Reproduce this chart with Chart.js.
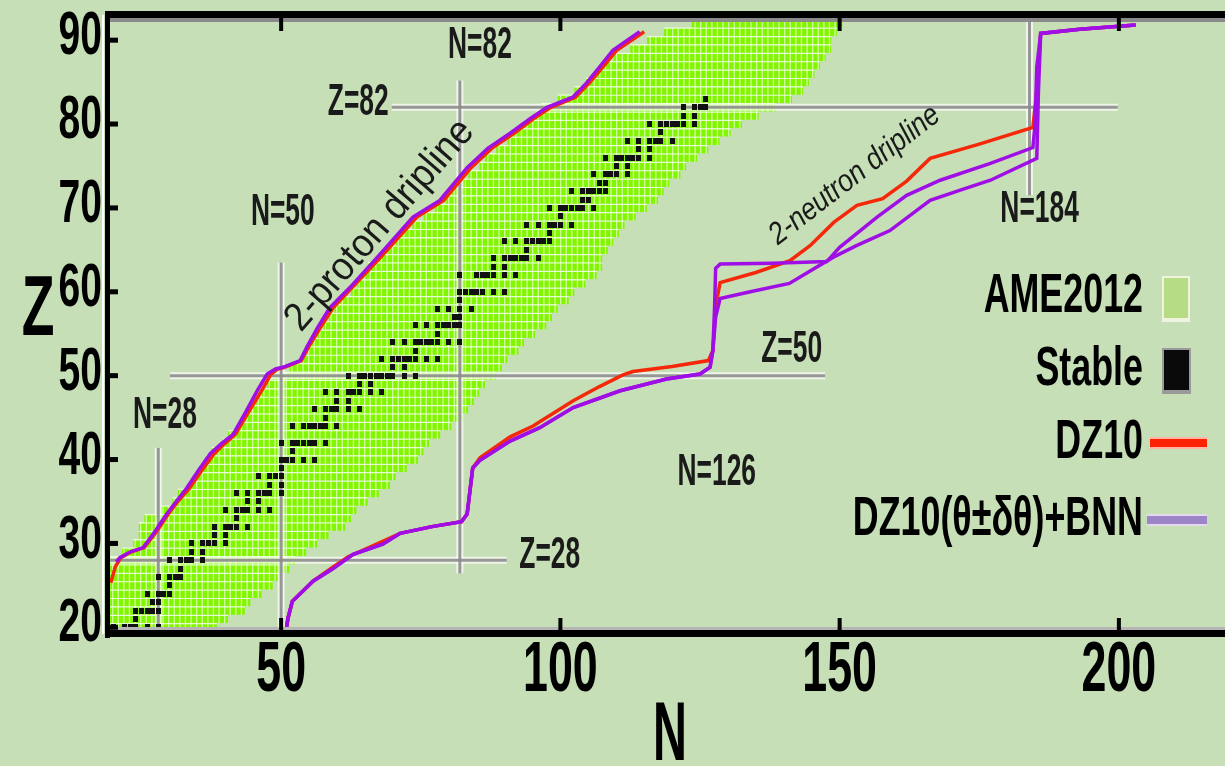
<!DOCTYPE html>
<html>
<head>
<meta charset="utf-8">
<title>Driplines</title>
<script src="https://cdn.jsdelivr.net/npm/chart.js@4.4.1/dist/chart.umd.min.js"></script>
<style>
  html, body { margin: 0; padding: 0; background: #c6dfb7; overflow: hidden; }
  #wrap { width: 1225px; height: 766px; position: relative; }
</style>
</head>
<body>
<div id="wrap"><canvas id="chart"></canvas></div>
<script>
// axis ranges and ticks
const N_MIN = 19, N_MAX = 219, Z_MIN = 19.2, Z_MAX = 93;
const nTicks = [50, 100, 150, 200];
const zTicks = [20, 30, 40, 50, 60, 70, 80, 90];

// AME2012 : N range for every Z
const ameZ = [19, 20, 21, 22, 23, 24, 25, 26, 27, 28, 29, 30, 31, 32, 33, 34, 35, 36, 37, 38,
  39, 40, 41, 42, 43, 44, 45, 46, 47, 48, 49, 50, 51, 52, 53, 54, 55, 56, 57, 58,
  59, 60, 61, 62, 63, 64, 65, 66, 67, 68, 69, 70, 71, 72, 73, 74, 75, 76, 77, 78,
  79, 80, 81, 82, 83, 84, 85, 86, 87, 88, 89, 90, 91, 92, 93];
const ameNmin = [15, 15, 15, 15, 15, 15, 15, 16, 17, 18, 22, 24, 25, 25, 26, 29, 31, 32, 34, 35,
  36, 37, 38, 40, 41, 43, 44, 45, 46, 47, 48, 49, 52, 54, 55, 56, 57, 58, 59, 60,
  61, 63, 64, 65, 66, 68, 69, 71, 72, 74, 76, 78, 80, 81, 83, 84, 86, 87, 89, 91,
  92, 94, 96, 97, 100, 103, 105, 107, 108, 110, 113, 116, 119, 124, 124];
const ameNmax = [37, 38, 40, 43, 44, 46, 48, 49, 51, 52, 54, 56, 58, 61, 62, 63, 65, 67, 69, 70,
  72, 74, 75, 76, 78, 80, 82, 83, 84, 85, 86, 88, 89, 90, 92, 93, 95, 97, 98, 99,
  101, 102, 104, 106, 107, 107, 108, 109, 110, 111, 113, 115, 117, 118, 119, 121, 122, 124, 126, 128,
  130, 132, 135, 138, 141, 143, 144, 145, 146, 147, 148, 148, 149, 150, 150];

// stable nuclides, N values for Z = 20 .. 83
const stableZ = [20, 21, 22, 23, 24, 25, 26, 27, 28, 29, 30, 31, 32, 33, 34, 35, 36, 37, 38, 39,
  40, 41, 42, 43, 44, 45, 46, 47, 48, 49, 50, 51, 52, 53, 54, 55, 56, 57, 58, 59,
  60, 61, 62, 63, 64, 65, 66, 67, 68, 69, 70, 71, 72, 73, 74, 75, 76, 77, 78, 79,
  80, 81, 82, 83];
const stableN = [
  [20, 22, 23, 24, 26, 28], [24], [24, 25, 26, 27, 28], [27, 28], [26, 28, 29, 30], [30],
  [28, 30, 31, 32], [32], [30, 32, 33, 34, 36], [34, 36], [34, 36, 37, 38, 40], [38, 40],
  [38, 40, 41, 42, 44], [42], [40, 42, 43, 44, 46, 48], [44, 46], [42, 44, 46, 47, 48, 50], [48, 50],
  [46, 48, 49, 50], [50], [50, 51, 52, 54, 56], [52], [50, 52, 53, 54, 55, 56, 58], [],
  [52, 54, 55, 56, 57, 58, 60], [58], [56, 58, 59, 60, 62, 64], [60, 62], [58, 60, 62, 63, 64, 66, 68], [64, 66],
  [62, 64, 65, 66, 67, 68, 69, 70, 72, 74], [70, 72], [68, 70, 71, 72, 73, 74, 76, 78], [74],
  [70, 72, 74, 75, 76, 77, 78, 80, 82], [78], [74, 76, 78, 79, 80, 81, 82], [81, 82], [78, 80, 82, 84], [82],
  [82, 83, 84, 85, 86, 88, 90], [], [82, 85, 86, 87, 88, 90, 92], [88, 90], [88, 90, 91, 92, 93, 94, 96], [94],
  [90, 92, 94, 95, 96, 97, 98], [98], [94, 96, 98, 99, 100, 102], [100], [98, 100, 101, 102, 103, 104, 106], [104, 105],
  [102, 104, 105, 106, 107, 108], [107, 108], [106, 108, 109, 110, 112], [110, 112], [108, 110, 111, 112, 113, 114, 116], [114, 116],
  [112, 114, 116, 117, 118, 120], [118], [116, 118, 119, 120, 121, 122, 124], [122, 124], [122, 124, 125, 126], [126]
];

// 2-proton dripline
const pDz10N = [19.5, 20.3, 21.3, 23.2, 25.5, 27.8, 29.8, 31.5, 33.6, 35.9, 38.0, 39.9, 41.8, 44.1, 46.5, 48.2, 49.4, 50.6, 53.6, 54.9,
  57.0, 59.3, 62.7, 67.8, 74.3, 79.1, 84.0, 87.7, 91.7, 95.1, 98.3, 102.7, 105.2, 107.6, 110.1, 112.8, 115.0];
const pDz10Z = [25.3, 27.2, 28.3, 29.0, 29.5, 31.5, 33.5, 35.0, 36.6, 38.8, 40.7, 41.9, 43, 45.6, 48.2, 50.2, 50.8, 51, 51.8, 53.4,
  55.7, 58.1, 60.5, 64.1, 68.9, 70.9, 74.8, 77.1, 78.9, 80.6, 82, 83.2, 84.9, 86.8, 88.8, 90, 91];
const pBnnN = [20.5, 21.1, 23, 25.3, 27.5, 29.5, 31.2, 33.1, 35.3, 37.3, 39.3, 41.4, 43.6, 45.7, 47.5, 49, 50.3, 53.4, 54.6, 56.5,
  58.7, 62.3, 67.2, 73.6, 78.4, 83.3, 87, 91, 94.5, 97.6, 102.2, 104.7, 107, 109.4, 112, 114.2];
const pBnnZ = [27.8, 28.3, 29.0, 29.5, 31.5, 33.5, 35.0, 36.6, 38.8, 40.7, 41.9, 43, 45.6, 48.2, 50.2, 50.8, 51, 51.8, 53.4, 55.7,
  58.1, 60.5, 64.1, 68.9, 70.9, 74.8, 77.1, 78.9, 80.6, 82, 83.2, 84.9, 86.8, 88.8, 90, 91];

// 2-neutron dripline
const nDz10N = [50.8, 51.2, 52, 53.4, 55.7, 59.3, 62, 66, 71.3, 77, 82.3, 83.3, 83.6, 84.3, 85.6, 91, 95.1, 102.3, 107, 111.2,
  113, 120, 126.5, 127.3, 127.6, 128, 128.6, 135, 141.1, 144.7, 149, 153.1, 157.7, 162, 166.2, 175, 184.6, 185.3, 186, 193, 203];
const nDz10Z = [19.2, 21, 23.1, 24, 25.5, 27.2, 28.4, 29.6, 31.2, 32.0, 32.6, 33.5, 35.1, 39, 40.2, 42.7, 44, 47, 48.7, 50.1,
  50.5, 51.1, 51.8, 53, 56, 59, 61.1, 62.3, 63.7, 65.5, 68.3, 70.3, 71.1, 73.2, 75.9, 77.6, 79.6, 84, 90.8, 91.3, 91.8];
const nBnnLoN = [50.8, 51.2, 52, 53.4, 55.7, 59.3, 62.9, 68.2, 71.3, 77, 82.3, 83.3, 83.6, 84.3, 85.6, 91, 96.3, 102.3, 110.7, 119,
  125, 126.8, 127.3, 127.8, 128.6, 134, 141, 148.8, 153, 159, 166.2, 172, 177, 185.3, 185.6, 186, 193, 203];
const nBnnLoZ = [19.2, 21, 23.1, 24, 25.5, 27, 28.7, 29.9, 31.2, 32.0, 32.6, 33.5, 35.1, 39, 39.9, 42.2, 43.8, 46.2, 48.2, 49.6,
  50.2, 51, 53, 57, 59.2, 60, 61, 64.1, 65.5, 67.3, 70.9, 72.2, 73.3, 75.9, 84, 90.8, 91.3, 91.8];
const nBnnHiN = [50.8, 51.2, 52, 53.4, 55.7, 59.3, 62.9, 68.2, 71.3, 77, 82.3, 83.3, 83.6, 84.3, 85.6, 91, 96.3, 102.3, 110.7, 119,
  125, 126.8, 127.3, 127.6, 127.8, 128.6, 138, 147.7, 150, 156.7, 162, 168, 177, 184.6, 185, 185.3, 186, 193, 203];
const nBnnHiZ = [19.2, 21, 23.1, 24, 25.5, 27, 28.7, 29.9, 31.2, 32.0, 32.6, 33.5, 35.1, 39, 39.9, 42.2, 43.8, 46.2, 48.2, 49.6,
  50.2, 51, 53, 58, 62.8, 63.3, 63.4, 63.6, 65.3, 68.9, 71.5, 73.3, 75.3, 77.2, 80, 86.8, 90.8, 91.3, 91.8];

// magic number guide lines
const magicFromN = [28, 50, 82, 184, 19, 30.1, 69.8];
const magicToN = [28, 50, 82, 184, 90.4, 147.4, 199.8];
const magicFromZ = [19.2, 19.2, 26.4, 71.5, 28, 50, 82];
const magicToZ = [41.4, 63.5, 85.2, 93, 28, 50, 82];

// text annotations
const annoText = ['N=28', 'N=50', 'N=82', 'N=184', 'N=126', 'Z=28', 'Z=50', 'Z=82'];
const annoN = [29.2, 50.3, 85.6, 185.8, 128, 98.1, 141.4, 63.8];
const annoZ = [45.2, 69.4, 89.3, 69.8, 38.4, 28.5, 53.1, 82.5];

const legendLabels = ['AME2012', 'Stable', 'DZ10', 'DZ10(\u03B8\u00B1\u03B4\u03B8)+BNN'];

const RED = '#f5280a';
const PURPLE = '#a00ee6';
const FONT = '"Liberation Sans", Arial, sans-serif';

function cellPattern() {
  const c = document.createElement('canvas');
  c.width = 28; c.height = 4;
  const g = c.getContext('2d');
  g.fillStyle = '#82f600';
  g.fillRect(0, 0, 28, 4);
  g.fillStyle = 'rgba(228,255,196,0.8)';
  [0, 5.6, 11.2, 16.8, 22.4].forEach(x => g.fillRect(x, 0, 1.3, 4));
  return g.createPattern(c, 'repeat');
}

function stableMark() {
  const c = document.createElement('canvas');
  c.width = 5; c.height = 6;
  const g = c.getContext('2d');
  g.fillStyle = '#111';
  g.fillRect(0, 0, 5, 6);
  return c;
}

function pts(ns, zs) {
  return ns.map((n, i) => ({ x: n, y: zs[i] }));
}

function lineSet(label, ns, zs, color, width, order) {
  return {
    type: 'scatter', label: label, data: pts(ns, zs), showLine: true,
    borderColor: color, borderWidth: width, pointRadius: 0, pointHoverRadius: 0,
    fill: false, tension: 0, order: order
  };
}

const datasets = [];
datasets.push({
  type: 'bar', label: 'AME2012', indexAxis: 'y', order: 10,
  data: ameZ.map((z, i) => ({ y: z, x: [ameNmin[i] - 0.5, ameNmax[i] + 0.5] })),
  backgroundColor: cellPattern(),
  borderColor: 'rgba(236,255,220,0.9)',
  borderWidth: { top: 1.5, bottom: 0, left: 0, right: 0 },
  borderSkipped: false,
  categoryPercentage: 1, barPercentage: 1
});
magicFromN.forEach((n, i) => {
  const ns = [n, magicToN[i]], zs = [magicFromZ[i], magicToZ[i]];
  datasets.push(lineSet('halo', ns, zs, 'rgba(255,255,255,0.7)', 7, 9));
  datasets.push(lineSet('magic', ns, zs, 'rgba(140,140,140,0.9)', 3, 8));
});
datasets.push({
  type: 'scatter', label: 'Stable', order: 6,
  data: stableZ.flatMap((z, i) => stableN[i].map(n => ({ x: n, y: z }))),
  pointStyle: stableMark(), pointRadius: 3
});
datasets.push(lineSet('DZ10', pDz10N, pDz10Z, RED, 3.5, 4));
datasets.push(lineSet('DZ10', nDz10N, nDz10Z, RED, 3.5, 4));
datasets.push(lineSet('DZ10(θ±δθ)+BNN', pBnnN, pBnnZ, PURPLE, 3.5, 2));
datasets.push(lineSet('DZ10(θ±δθ)+BNN', nBnnLoN, nBnnLoZ, PURPLE, 3.5, 2));
datasets.push(lineSet('DZ10(θ±δθ)+BNN', nBnnHiN, nBnnHiZ, PURPLE, 3.5, 2));

// text drawn squeezed like the condensed font of the picture
function drawText(ctx, txt, x, y, o) {
  ctx.save();
  ctx.translate(x, y);
  if (o.rot) ctx.rotate(o.rot);
  ctx.scale(o.sx || 1, o.sy || 1);
  ctx.font = o.font;
  ctx.fillStyle = o.color || '#000';
  ctx.textAlign = o.align || 'center';
  ctx.textBaseline = 'middle';
  ctx.fillText(txt, 0, 0);
  ctx.restore();
}

const decor = {
  id: 'decor',
  afterDatasetsDraw(chart) {
    const { ctx, chartArea: a, scales: { x, y } } = chart;
    const w = a.right - a.left, h = a.bottom - a.top;
    ctx.save();
    ctx.fillStyle = '#ffffff';
    ctx.fillRect(a.left - 6, a.top, 2, h);
    ctx.fillStyle = '#8a8a8a';
    ctx.fillRect(a.left, a.top + 3, w, 4);
    ctx.fillStyle = '#b5b5b5';
    ctx.fillRect(a.left, a.bottom - 7, w, 3);
    ctx.fillStyle = '#000';
    ctx.fillRect(a.left - 3, a.top - 4, 5, h + 8);
    ctx.fillRect(a.left - 3, a.top - 4, w + 3, 7);
    ctx.fillRect(a.left - 3, a.bottom - 4, w + 3, 7);
    x.ticks.forEach(t => {
      const px = x.getPixelForValue(t.value);
      ctx.fillRect(px - 2, a.bottom - 16, 4, 14);
      ctx.fillRect(px - 2, a.top + 2, 4, 14);
    });
    y.ticks.forEach(t => {
      const py = y.getPixelForValue(t.value);
      ctx.fillRect(a.left, py - 2.5, 10, 5);
    });
    ctx.restore();
  },
  afterDraw(chart) {
    const { ctx, chartArea: a, scales: { x, y } } = chart;
    // tick labels
    x.ticks.forEach(t => {
      drawText(ctx, String(t.value), x.getPixelForValue(t.value), 672,
        { font: 'bold 70px ' + FONT, sx: 0.64 });
    });
    y.ticks.forEach(t => {
      drawText(ctx, String(t.value), a.left - 6, y.getPixelForValue(t.value) - 3,
        { font: 'bold 62px ' + FONT, sx: 0.63, align: 'right' });
    });
    // axis titles
    drawText(ctx, 'Z', 38, 312, { font: 'bold 85px ' + FONT, sx: 0.63 });
    drawText(ctx, 'N', 670, 737, { font: 'bold 84px ' + FONT, sx: 0.56 });

    // magic number labels
    annoText.forEach((t, i) => {
      drawText(ctx, t, x.getPixelForValue(annoN[i]), y.getPixelForValue(annoZ[i]),
        { font: 'bold 44px ' + FONT, sx: 0.6, color: '#1a1a1a' });
    });
    // dripline names
    drawText(ctx, '2-proton dripline', x.getPixelForValue(67.7), y.getPixelForValue(67.9),
      { font: '40px ' + FONT, sx: 0.92, rot: -49 * Math.PI / 180, color: '#1a1a1a' });
    drawText(ctx, '2-neutron dripline', x.getPixelForValue(152.7), y.getPixelForValue(73.9),
      { font: 'italic 31px ' + FONT, sx: 0.86, rot: -37.7 * Math.PI / 180, color: '#1a1a1a' });

    // legend
    const tx = 1143;
    const rows = [297, 370, 443, 520];
    legendLabels.forEach((t, i) => {
      drawText(ctx, t, tx, rows[i], { font: 'bold 56px ' + FONT, sx: 0.64, align: 'right' });
    });
    ctx.save();
    ctx.fillStyle = '#eef4df';
    ctx.fillRect(1162, 276, 28, 46);
    ctx.fillStyle = '#b6dc84';
    ctx.fillRect(1164, 278, 24, 40);
    ctx.fillStyle = '#9a9a9a';
    ctx.fillRect(1162, 348, 29, 46);
    ctx.fillStyle = '#0a0a0a';
    ctx.fillRect(1164, 350, 25, 40);
    ctx.fillStyle = '#ffb4a4';
    ctx.fillRect(1150, 437, 57, 12);
    ctx.fillStyle = '#ff2200';
    ctx.fillRect(1150, 439, 57, 8);
    ctx.fillStyle = '#e4d8f0';
    ctx.fillRect(1147, 514, 60, 12);
    ctx.fillStyle = '#9c84c6';
    ctx.fillRect(1147, 516, 60, 8);
    ctx.restore();
  }
};

new Chart(document.getElementById('chart'), {
  type: 'scatter',
  data: { datasets: datasets },
  options: {
    responsive: true,
    maintainAspectRatio: false,
    animation: false,
    events: [],
    layout: { autoPadding: false, padding: { top: 15, right: 0, bottom: 0, left: 0 } },
    plugins: { legend: { display: false }, tooltip: { enabled: false } },
    scales: {
      x: {
        type: 'linear', position: 'bottom', min: N_MIN, max: N_MAX, offset: false,
        grid: { display: false, offset: false }, border: { display: false },
        ticks: { display: false },
        afterBuildTicks: s => { s.ticks = nTicks.map(v => ({ value: v })); },
        afterFit: s => { s.height = 132; }
      },
      y: {
        type: 'linear', position: 'left', min: Z_MIN, max: Z_MAX, offset: false,
        grid: { display: false, offset: false }, border: { display: false },
        ticks: { display: false },
        afterBuildTicks: s => { s.ticks = zTicks.map(v => ({ value: v })); },
        afterFit: s => { s.width = 108; }
      }
    }
  },
  plugins: [decor]
});
</script>
</body>
</html>
